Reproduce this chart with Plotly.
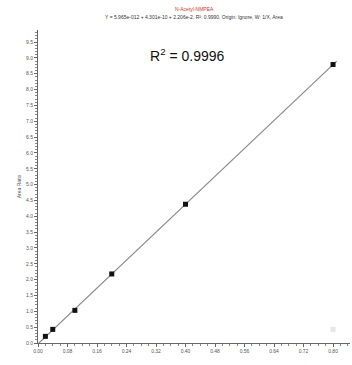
import numpy as np
import plotly.graph_objects as go

# Calibration data
concentration = [0.02, 0.04, 0.10, 0.20, 0.40, 0.80]
area_ratio = [0.21, 0.43, 1.03, 2.18, 4.38, 8.79]
excluded_x = [0.80]
excluded_y = [0.43]
x_ticks = [0.00, 0.08, 0.16, 0.24, 0.32, 0.40, 0.48, 0.56, 0.64, 0.72, 0.80]
y_ticks = [i * 0.5 for i in range(20)]
compound = "N-Acetyl-NMPEA"
equation = "Y = 5.965e-012 + 4.301e-10 + 2.206e-2, R²: 0.9990, Origin: Ignore, W: 1/X, Area"
r2_text = "R<sup>2</sup> = 0.9996"

slope, intercept = np.polyfit(concentration, area_ratio, 1)
line_x = [0.0, 0.81]
line_y = [intercept + slope * v for v in line_x]

fig = go.Figure()
fig.add_trace(go.Scatter(x=line_x, y=line_y, mode="lines",
                         line=dict(color="#8a8a8a", width=1.2), hoverinfo="skip"))
fig.add_trace(go.Scatter(x=concentration, y=area_ratio, mode="markers",
                         marker=dict(symbol="square", size=5, color="#111111")))
fig.add_trace(go.Scatter(x=excluded_x, y=excluded_y, mode="markers",
                         marker=dict(symbol="square", size=5, color="#e6e6e6")))

fig.update_layout(
    width=352, height=365,
    margin=dict(l=38, r=2, t=30, b=22),
    paper_bgcolor="white", plot_bgcolor="white",
    showlegend=False,
    font=dict(family="Arial, Liberation Sans, sans-serif", color="#555555", size=5),
    xaxis=dict(range=[0, 0.846], tickvals=x_ticks,
               ticktext=[f"{v:.2f}" for v in x_ticks],
               showgrid=False, zeroline=False, showline=True, linecolor="#666666",
               linewidth=1, ticks="outside", ticklen=3, tickcolor="#666666",
               tickfont=dict(size=5, color="#555555"),
               minor=dict(dtick=0.02, tick0=0, ticks="outside", ticklen=2,
                          tickcolor="#888888")),
    yaxis=dict(range=[0, 9.88], tickvals=y_ticks,
               ticktext=[f"{v:.1f}" for v in y_ticks],
               showgrid=False, zeroline=False, showline=True, linecolor="#666666",
               linewidth=1, ticks="outside", ticklen=3, tickcolor="#666666",
               tickfont=dict(size=5, color="#555555"),
               title=dict(text="Area Ratio", font=dict(size=5, color="#555555"),
                          standoff=4),
               minor=dict(dtick=0.1, tick0=0, ticks="outside", ticklen=2,
                          tickcolor="#888888")),
)

fig.add_annotation(x=0.5, y=1, xref="paper", yref="paper", yanchor="bottom",
                   yshift=16, text=compound, showarrow=False,
                   font=dict(size=5, color="#e03020"))
fig.add_annotation(x=0.5, y=1, xref="paper", yref="paper", yanchor="bottom",
                   yshift=8, text=equation, showarrow=False,
                   font=dict(size=5, color="#333333"))
fig.add_annotation(x=0.48, y=0.955, xref="paper", yref="paper",
                   text=r2_text, showarrow=False,
                   font=dict(size=14, color="#111111",
                             family="Arial, Liberation Sans, sans-serif"))

fig.write_html("out.html")
